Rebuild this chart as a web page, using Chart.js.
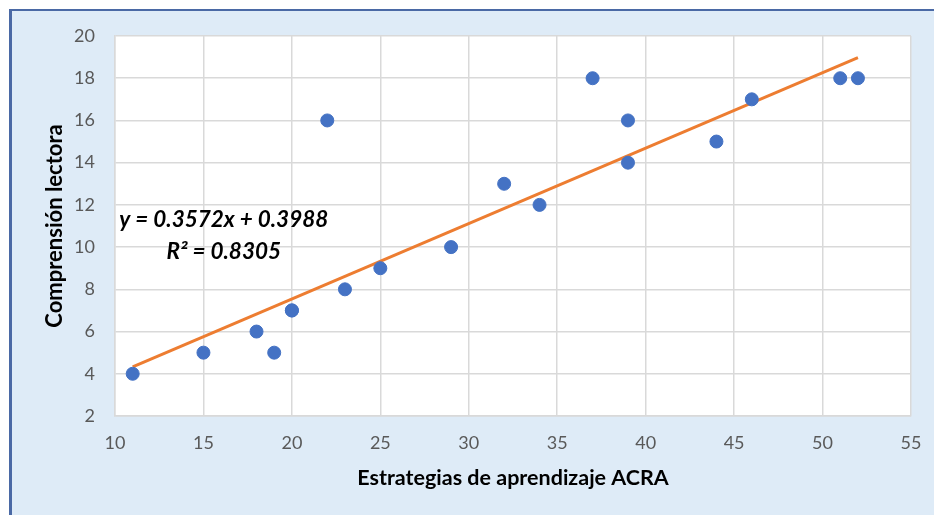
<!DOCTYPE html>
<html>
<head>
<meta charset="utf-8">
<script src="https://cdn.jsdelivr.net/npm/chart.js@4.4.1/dist/chart.umd.min.js"></script>
<style>
  html, body { margin: 0; padding: 0; background: #ffffff; }
  #frame {
    position: absolute; left: 9px; top: 9px; width: 925px; height: 506px;
    background: #deebf7; border-top: 2px solid #4a69a5; border-left: 3px solid #4a69a5;
    box-sizing: border-box;
  }
  #wrap { position: absolute; left: 0; top: 0; width: 934px; height: 515px; }
</style>
</head>
<body>
<div id="frame"></div>
<div id="wrap"><canvas id="scatterChart" width="934" height="515"></canvas></div>
<script>
    "use strict";

    // Estrategias de aprendizaje ACRA (x) vs Comprensión lectora (y)
    const acra = [11, 15, 18, 19, 20, 20, 22, 23, 25, 29, 32, 34, 37, 39, 39, 44, 46, 51, 52];
    const comprension = [4, 5, 6, 5, 7, 7, 16, 8, 9, 10, 13, 12, 18, 16, 14, 15, 17, 18, 18];

    // trend line ends
    const trendX = [11, 52];
    const trendY = [4.33, 18.97];

    const xTicks = [10, 15, 20, 25, 30, 35, 40, 45, 50, 55];
    const yTicks = [2, 4, 6, 8, 10, 12, 14, 16, 18, 20];

    const equationText = "y = 0.3572x + 0.3988";
    const r2Text = "R² = 0.8305";

    const points = acra.map((x, i) => ({ x: x, y: comprension[i] }));
    const trend = trendX.map((x, i) => ({ x: x, y: trendY[i] }));

    const FONT = "Lato, 'Open Sans', sans-serif";

    // white plot area + regression label
    const plotAreaPlugin = {
        id: "plotArea",
        beforeDraw(chart) {
            const { ctx, chartArea } = chart;
            ctx.save();
            ctx.fillStyle = "#ffffff";
            ctx.fillRect(chartArea.left, chartArea.top, chartArea.width, chartArea.height);
            ctx.restore();
        },
        afterDatasetsDraw(chart) {
            const ctx = chart.ctx;
            const xs = chart.scales.x;
            const ys = chart.scales.y;
            ctx.save();
            ctx.fillStyle = "#000000";
            ctx.font = "italic bold 22.5px " + FONT;
            ctx.textAlign = "center";
            ctx.textBaseline = "middle";
            const cx = xs.getPixelForValue(16.15);
            ctx.fillText(equationText, cx, ys.getPixelForValue(11.28));
            ctx.fillText(r2Text, cx, ys.getPixelForValue(9.77));
            ctx.restore();
        },
    };

    const ctx = document.getElementById("scatterChart").getContext("2d");
    const scatterChart = new Chart(ctx, {
        type: "scatter",
        data: {
            datasets: [
                {
                    label: "Comprensión lectora",
                    data: points,
                    backgroundColor: "#4472c4",
                    borderColor: "#4472c4",
                    pointRadius: 6.5,
                    pointHoverRadius: 6.5,
                    order: 1,
                },
                {
                    label: "Tendencia",
                    data: trend,
                    type: "line",
                    showLine: true,
                    borderColor: "#ed7d31",
                    borderWidth: 3,
                    pointRadius: 0,
                    fill: false,
                    order: 2,
                },
            ],
        },
        options: {
            responsive: false,
            animation: false,
            layout: { padding: { top: 36, right: 23, left: 0, bottom: 0 } },
            plugins: {
                legend: { display: false },
                tooltip: { enabled: false },
            },
            scales: {
                x: {
                    type: "linear",
                    min: 10,
                    max: 55,
                    afterBuildTicks: (scale) => {
                        scale.ticks = xTicks.map((v) => ({ value: v }));
                    },
                    afterFit: (scale) => {
                        scale.height = 99;
                        scale.paddingLeft = 0;
                        scale.paddingRight = 0;
                    },
                    grid: { color: "#d9d9d9", lineWidth: 1.5, drawTicks: false },
                    border: { display: true, color: "#d9d9d9", width: 1.5 },
                    ticks: {
                        color: "#595959",
                        padding: 16,
                        font: { family: FONT, size: 18 },
                    },
                    title: {
                        display: true,
                        text: "Estrategias de aprendizaje ACRA",
                        color: "#000000",
                        font: { family: FONT, size: 21.5, weight: "bold" },
                        padding: { top: 0, bottom: 24 },
                    },
                },
                y: {
                    type: "linear",
                    min: 2,
                    max: 20,
                    afterBuildTicks: (scale) => {
                        scale.ticks = yTicks.map((v) => ({ value: v }));
                    },
                    afterFit: (scale) => {
                        scale.width = 115;
                        scale.paddingTop = 0;
                        scale.paddingBottom = 0;
                    },
                    grid: { color: "#d9d9d9", lineWidth: 1.5, drawTicks: false },
                    border: { display: true, color: "#d9d9d9", width: 1.5 },
                    ticks: {
                        color: "#595959",
                        padding: 20,
                        font: { family: FONT, size: 18 },
                    },
                    title: {
                        display: true,
                        text: "Comprensión lectora",
                        color: "#000000",
                        font: { family: FONT, size: 22, weight: "bold" },
                        padding: { top: 42, bottom: 0 },
                    },
                },
            },
        },
        plugins: [plotAreaPlugin],
    });
</script>
</body>
</html>
